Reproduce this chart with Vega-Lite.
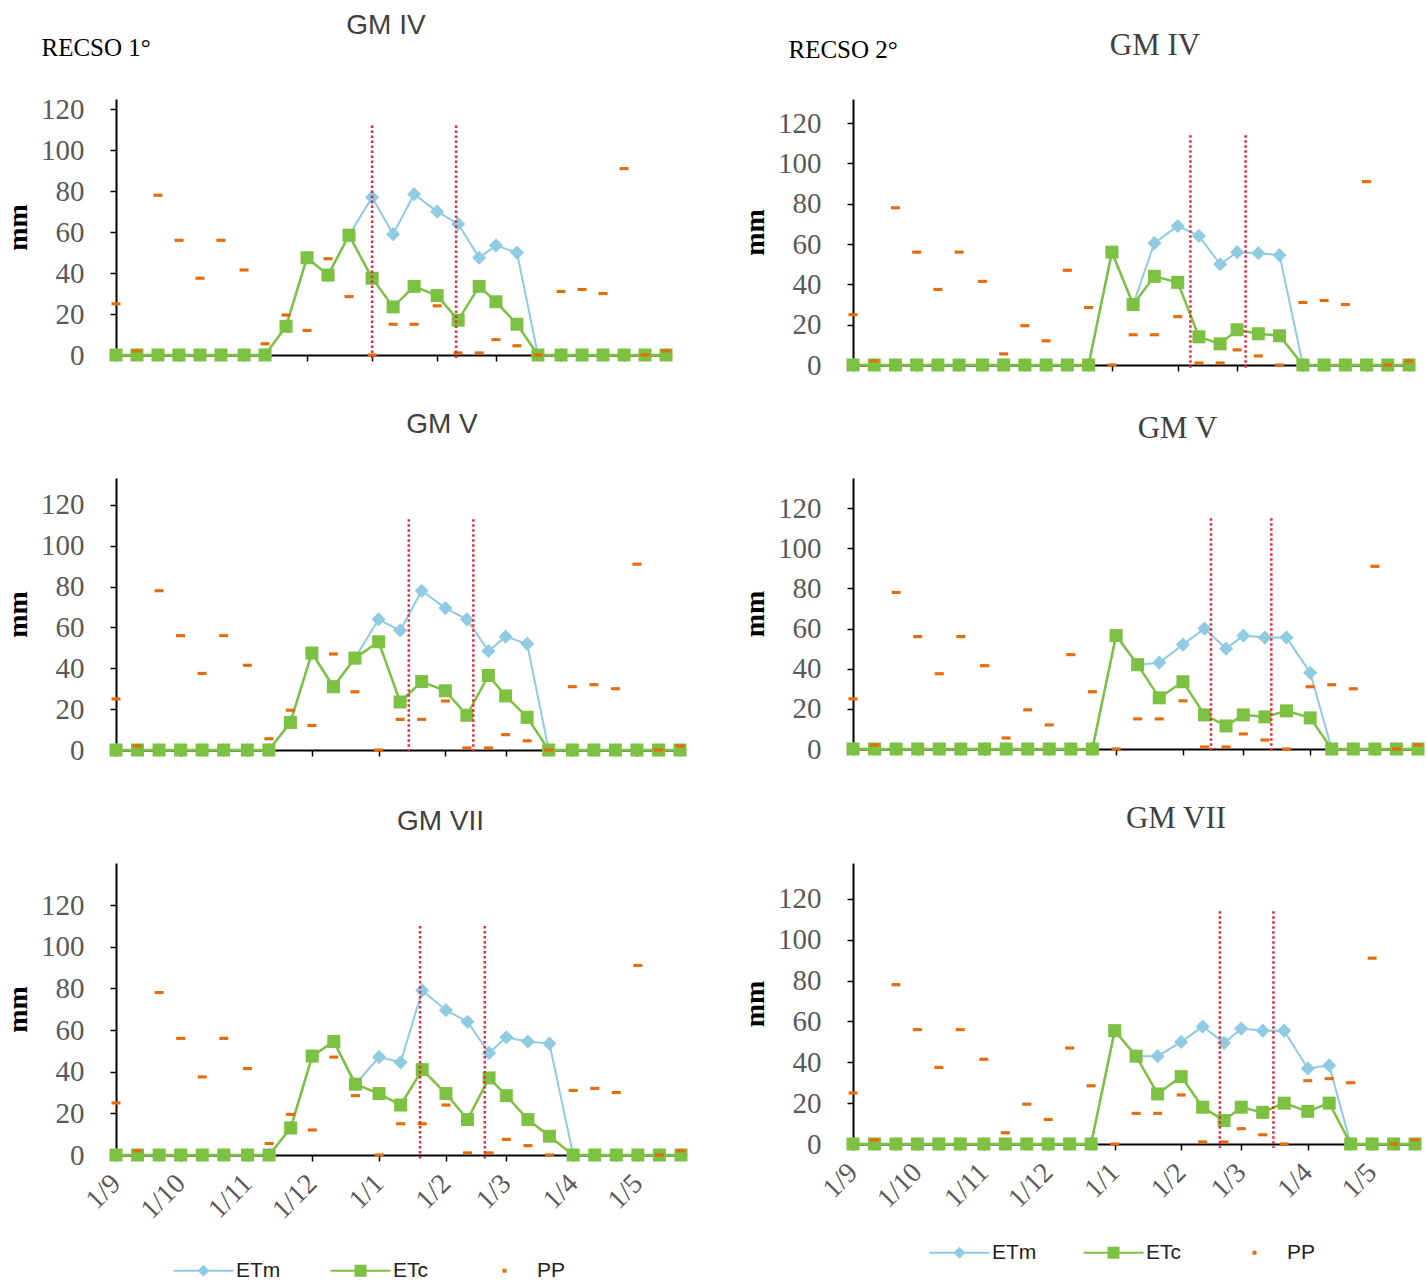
{
  "$schema": "https://vega.github.io/schema/vega-lite/v6.json",
  "background": "white",
  "padding": {"left": 4, "top": 12, "right": 5, "bottom": 0},
  "config": {"view": {"stroke": null}, "font": "Liberation Sans"},
  "datasets": {
    "r1_gm4": [
      {"date": "2016-09-01", "ETm": 0, "ETc": 0, "PP": 25},
      {"date": "2016-09-11", "ETm": 0, "ETc": 0, "PP": 2},
      {"date": "2016-09-21", "ETm": 0, "ETc": 0, "PP": 78},
      {"date": "2016-10-01", "ETm": 0, "ETc": 0, "PP": 56},
      {"date": "2016-10-11", "ETm": 0, "ETc": 0, "PP": 37.5},
      {"date": "2016-10-21", "ETm": 0, "ETc": 0, "PP": 56},
      {"date": "2016-11-01", "ETm": 0, "ETc": 0, "PP": 41.5},
      {"date": "2016-11-11", "ETm": 0, "ETc": 0, "PP": 5.5},
      {"date": "2016-11-21", "ETm": 14, "ETc": 14, "PP": 19.5},
      {"date": "2016-12-01", "ETm": 47.5, "ETc": 47.5, "PP": 12},
      {"date": "2016-12-11", "ETm": 39, "ETc": 39, "PP": 47},
      {"date": "2016-12-21", "ETm": 58.5, "ETc": 58.5, "PP": 28.5},
      {"date": "2017-01-01", "ETm": 77, "ETc": 37.5, "PP": 0},
      {"date": "2017-01-11", "ETm": 59, "ETc": 23.5, "PP": 15},
      {"date": "2017-01-21", "ETm": 78.5, "ETc": 33.5, "PP": 15},
      {"date": "2017-02-01", "ETm": 70, "ETc": 29, "PP": 24},
      {"date": "2017-02-11", "ETm": 64, "ETc": 17, "PP": 1},
      {"date": "2017-02-21", "ETm": 47.5, "ETc": 33.5, "PP": 1},
      {"date": "2017-03-01", "ETm": 53.5, "ETc": 26, "PP": 7.5},
      {"date": "2017-03-11", "ETm": 50, "ETc": 15, "PP": 4.5},
      {"date": "2017-03-21", "ETm": 0, "ETc": 0, "PP": 0},
      {"date": "2017-04-01", "ETm": 0, "ETc": 0, "PP": 31},
      {"date": "2017-04-11", "ETm": 0, "ETc": 0, "PP": 32},
      {"date": "2017-04-21", "ETm": 0, "ETc": 0, "PP": 30},
      {"date": "2017-05-01", "ETm": 0, "ETc": 0, "PP": 91},
      {"date": "2017-05-11", "ETm": 0, "ETc": 0, "PP": 0},
      {"date": "2017-05-21", "ETm": 0, "ETc": 0, "PP": 2}
    ],
    "r1_gm5": [
      {"date": "2016-09-01", "ETm": 0, "ETc": 0, "PP": 25},
      {"date": "2016-09-11", "ETm": 0, "ETc": 0, "PP": 2},
      {"date": "2016-09-21", "ETm": 0, "ETc": 0, "PP": 78},
      {"date": "2016-10-01", "ETm": 0, "ETc": 0, "PP": 56},
      {"date": "2016-10-11", "ETm": 0, "ETc": 0, "PP": 37.5},
      {"date": "2016-10-21", "ETm": 0, "ETc": 0, "PP": 56},
      {"date": "2016-11-01", "ETm": 0, "ETc": 0, "PP": 41.5},
      {"date": "2016-11-11", "ETm": 0, "ETc": 0, "PP": 5.5},
      {"date": "2016-11-21", "ETm": 13.5, "ETc": 13.5, "PP": 19.5},
      {"date": "2016-12-01", "ETm": 47.5, "ETc": 47.5, "PP": 12},
      {"date": "2016-12-11", "ETm": 31, "ETc": 31, "PP": 47},
      {"date": "2016-12-21", "ETm": 45, "ETc": 45, "PP": 28.5},
      {"date": "2017-01-01", "ETm": 64, "ETc": 53, "PP": 0},
      {"date": "2017-01-11", "ETm": 58.5, "ETc": 23.5, "PP": 15},
      {"date": "2017-01-21", "ETm": 78, "ETc": 33.5, "PP": 15},
      {"date": "2017-02-01", "ETm": 69.5, "ETc": 29, "PP": 24},
      {"date": "2017-02-11", "ETm": 64, "ETc": 17, "PP": 1},
      {"date": "2017-02-21", "ETm": 48.5, "ETc": 36.5, "PP": 1},
      {"date": "2017-03-01", "ETm": 55.5, "ETc": 26.5, "PP": 7.5},
      {"date": "2017-03-11", "ETm": 52, "ETc": 16, "PP": 4.5},
      {"date": "2017-03-21", "ETm": 0, "ETc": 0, "PP": 0},
      {"date": "2017-04-01", "ETm": 0, "ETc": 0, "PP": 31},
      {"date": "2017-04-11", "ETm": 0, "ETc": 0, "PP": 32},
      {"date": "2017-04-21", "ETm": 0, "ETc": 0, "PP": 30},
      {"date": "2017-05-01", "ETm": 0, "ETc": 0, "PP": 91},
      {"date": "2017-05-11", "ETm": 0, "ETc": 0, "PP": 0},
      {"date": "2017-05-21", "ETm": 0, "ETc": 0, "PP": 2}
    ],
    "r1_gm7": [
      {"date": "2016-09-01", "ETm": 0, "ETc": 0, "PP": 25},
      {"date": "2016-09-11", "ETm": 0, "ETc": 0, "PP": 2},
      {"date": "2016-09-21", "ETm": 0, "ETc": 0, "PP": 78},
      {"date": "2016-10-01", "ETm": 0, "ETc": 0, "PP": 56},
      {"date": "2016-10-11", "ETm": 0, "ETc": 0, "PP": 37.5},
      {"date": "2016-10-21", "ETm": 0, "ETc": 0, "PP": 56},
      {"date": "2016-11-01", "ETm": 0, "ETc": 0, "PP": 41.5},
      {"date": "2016-11-11", "ETm": 0, "ETc": 0, "PP": 5.5},
      {"date": "2016-11-21", "ETm": 13, "ETc": 13, "PP": 19.5},
      {"date": "2016-12-01", "ETm": 47.5, "ETc": 47.5, "PP": 12},
      {"date": "2016-12-11", "ETm": 54.5, "ETc": 54.5, "PP": 47},
      {"date": "2016-12-21", "ETm": 34, "ETc": 34, "PP": 28.5},
      {"date": "2017-01-01", "ETm": 47, "ETc": 29.5, "PP": 0},
      {"date": "2017-01-11", "ETm": 44.5, "ETc": 24, "PP": 15},
      {"date": "2017-01-21", "ETm": 79, "ETc": 41, "PP": 15},
      {"date": "2017-02-01", "ETm": 69.5, "ETc": 29.5, "PP": 24},
      {"date": "2017-02-11", "ETm": 64, "ETc": 17, "PP": 1},
      {"date": "2017-02-21", "ETm": 49, "ETc": 37, "PP": 1},
      {"date": "2017-03-01", "ETm": 56.5, "ETc": 28.5, "PP": 7.5},
      {"date": "2017-03-11", "ETm": 54.5, "ETc": 17, "PP": 4.5},
      {"date": "2017-03-21", "ETm": 53.5, "ETc": 9, "PP": 0},
      {"date": "2017-04-01", "ETm": 0, "ETc": 0, "PP": 31},
      {"date": "2017-04-11", "ETm": 0, "ETc": 0, "PP": 32},
      {"date": "2017-04-21", "ETm": 0, "ETc": 0, "PP": 30},
      {"date": "2017-05-01", "ETm": 0, "ETc": 0, "PP": 91},
      {"date": "2017-05-11", "ETm": 0, "ETc": 0, "PP": 0},
      {"date": "2017-05-21", "ETm": 0, "ETc": 0, "PP": 2}
    ],
    "r2_gm4": [
      {"date": "2016-09-01", "ETm": 0, "ETc": 0, "PP": 25},
      {"date": "2016-09-11", "ETm": 0, "ETc": 0, "PP": 2},
      {"date": "2016-09-21", "ETm": 0, "ETc": 0, "PP": 78},
      {"date": "2016-10-01", "ETm": 0, "ETc": 0, "PP": 56},
      {"date": "2016-10-11", "ETm": 0, "ETc": 0, "PP": 37.5},
      {"date": "2016-10-21", "ETm": 0, "ETc": 0, "PP": 56},
      {"date": "2016-11-01", "ETm": 0, "ETc": 0, "PP": 41.5},
      {"date": "2016-11-11", "ETm": 0, "ETc": 0, "PP": 5.5},
      {"date": "2016-11-21", "ETm": 0, "ETc": 0, "PP": 19.5},
      {"date": "2016-12-01", "ETm": 0, "ETc": 0, "PP": 12},
      {"date": "2016-12-11", "ETm": 0, "ETc": 0, "PP": 47},
      {"date": "2016-12-21", "ETm": 0, "ETc": 0, "PP": 28.5},
      {"date": "2017-01-01", "ETm": 56, "ETc": 56, "PP": 0},
      {"date": "2017-01-11", "ETm": 30, "ETc": 30, "PP": 15},
      {"date": "2017-01-21", "ETm": 60.5, "ETc": 44, "PP": 15},
      {"date": "2017-02-01", "ETm": 69, "ETc": 41, "PP": 24},
      {"date": "2017-02-11", "ETm": 64, "ETc": 14, "PP": 1},
      {"date": "2017-02-21", "ETm": 50, "ETc": 10.5, "PP": 1},
      {"date": "2017-03-01", "ETm": 56, "ETc": 17.5, "PP": 7.5},
      {"date": "2017-03-11", "ETm": 55.5, "ETc": 15.5, "PP": 4.5},
      {"date": "2017-03-21", "ETm": 54.5, "ETc": 14.5, "PP": 0},
      {"date": "2017-04-01", "ETm": 0, "ETc": 0, "PP": 31},
      {"date": "2017-04-11", "ETm": 0, "ETc": 0, "PP": 32},
      {"date": "2017-04-21", "ETm": 0, "ETc": 0, "PP": 30},
      {"date": "2017-05-01", "ETm": 0, "ETc": 0, "PP": 91},
      {"date": "2017-05-11", "ETm": 0, "ETc": 0, "PP": 0},
      {"date": "2017-05-21", "ETm": 0, "ETc": 0, "PP": 2}
    ],
    "r2_gm5": [
      {"date": "2016-09-01", "ETm": 0, "ETc": 0, "PP": 25},
      {"date": "2016-09-11", "ETm": 0, "ETc": 0, "PP": 2},
      {"date": "2016-09-21", "ETm": 0, "ETc": 0, "PP": 78},
      {"date": "2016-10-01", "ETm": 0, "ETc": 0, "PP": 56},
      {"date": "2016-10-11", "ETm": 0, "ETc": 0, "PP": 37.5},
      {"date": "2016-10-21", "ETm": 0, "ETc": 0, "PP": 56},
      {"date": "2016-11-01", "ETm": 0, "ETc": 0, "PP": 41.5},
      {"date": "2016-11-11", "ETm": 0, "ETc": 0, "PP": 5.5},
      {"date": "2016-11-21", "ETm": 0, "ETc": 0, "PP": 19.5},
      {"date": "2016-12-01", "ETm": 0, "ETc": 0, "PP": 12},
      {"date": "2016-12-11", "ETm": 0, "ETc": 0, "PP": 47},
      {"date": "2016-12-21", "ETm": 0, "ETc": 0, "PP": 28.5},
      {"date": "2017-01-01", "ETm": 56.5, "ETc": 56.5, "PP": 0},
      {"date": "2017-01-11", "ETm": 42, "ETc": 42, "PP": 15},
      {"date": "2017-01-21", "ETm": 43, "ETc": 25.5, "PP": 15},
      {"date": "2017-02-01", "ETm": 52, "ETc": 33.5, "PP": 24},
      {"date": "2017-02-11", "ETm": 60, "ETc": 17, "PP": 1},
      {"date": "2017-02-21", "ETm": 50, "ETc": 11.5, "PP": 1},
      {"date": "2017-03-01", "ETm": 56.5, "ETc": 17, "PP": 7.5},
      {"date": "2017-03-11", "ETm": 55.5, "ETc": 16, "PP": 4.5},
      {"date": "2017-03-21", "ETm": 55.5, "ETc": 19, "PP": 0},
      {"date": "2017-04-01", "ETm": 38, "ETc": 15.5, "PP": 31},
      {"date": "2017-04-11", "ETm": 0, "ETc": 0, "PP": 32},
      {"date": "2017-04-21", "ETm": 0, "ETc": 0, "PP": 30},
      {"date": "2017-05-01", "ETm": 0, "ETc": 0, "PP": 91},
      {"date": "2017-05-11", "ETm": 0, "ETc": 0, "PP": 0},
      {"date": "2017-05-21", "ETm": 0, "ETc": 0, "PP": 2}
    ],
    "r2_gm7": [
      {"date": "2016-09-01", "ETm": 0, "ETc": 0, "PP": 25},
      {"date": "2016-09-11", "ETm": 0, "ETc": 0, "PP": 2},
      {"date": "2016-09-21", "ETm": 0, "ETc": 0, "PP": 78},
      {"date": "2016-10-01", "ETm": 0, "ETc": 0, "PP": 56},
      {"date": "2016-10-11", "ETm": 0, "ETc": 0, "PP": 37.5},
      {"date": "2016-10-21", "ETm": 0, "ETc": 0, "PP": 56},
      {"date": "2016-11-01", "ETm": 0, "ETc": 0, "PP": 41.5},
      {"date": "2016-11-11", "ETm": 0, "ETc": 0, "PP": 5.5},
      {"date": "2016-11-21", "ETm": 0, "ETc": 0, "PP": 19.5},
      {"date": "2016-12-01", "ETm": 0, "ETc": 0, "PP": 12},
      {"date": "2016-12-11", "ETm": 0, "ETc": 0, "PP": 47},
      {"date": "2016-12-21", "ETm": 0, "ETc": 0, "PP": 28.5},
      {"date": "2017-01-01", "ETm": 55.5, "ETc": 55.5, "PP": 0},
      {"date": "2017-01-11", "ETm": 43, "ETc": 43, "PP": 15},
      {"date": "2017-01-21", "ETm": 43, "ETc": 24.5, "PP": 15},
      {"date": "2017-02-01", "ETm": 50, "ETc": 33, "PP": 24},
      {"date": "2017-02-11", "ETm": 57.5, "ETc": 18, "PP": 1},
      {"date": "2017-02-21", "ETm": 49.5, "ETc": 11.5, "PP": 1},
      {"date": "2017-03-01", "ETm": 56.5, "ETc": 18, "PP": 7.5},
      {"date": "2017-03-11", "ETm": 55.5, "ETc": 15.5, "PP": 4.5},
      {"date": "2017-03-21", "ETm": 55.5, "ETc": 20, "PP": 0},
      {"date": "2017-04-01", "ETm": 37, "ETc": 16, "PP": 31},
      {"date": "2017-04-11", "ETm": 38.5, "ETc": 20, "PP": 32},
      {"date": "2017-04-21", "ETm": 0, "ETc": 0, "PP": 30},
      {"date": "2017-05-01", "ETm": 0, "ETc": 0, "PP": 91},
      {"date": "2017-05-11", "ETm": 0, "ETc": 0, "PP": 0},
      {"date": "2017-05-21", "ETm": 0, "ETc": 0, "PP": 2}
    ]
  },
  "columns": 2,
  "bounds": "flush",
  "spacing": {"row": 113, "column": 172},
  "resolve": {"scale": {"color": "independent"}, "legend": {"color": "independent"}},
  "concat": [
    {
      "width": 550, "height": 256,
      "title": {"text": "GM IV", "font": "Liberation Sans", "fontSize": 28, "fontWeight": "normal", "color": "#404040", "anchor": "middle", "frame": "group", "baseline": "alphabetic", "dx": -5, "offset": 2, "dy": 29},
      "data": {"name": "r1_gm4"},
      "resolve": {"axis": {"x": "independent"}},
      "layer": [
        {"mark": {"type": "line", "strokeWidth": 2, "point": {"shape": "diamond", "size": 200, "filled": true, "opacity": 1}},
         "encoding": {
           "x": {"field": "date", "type": "temporal", "scale": {"type": "utc", "nice": false, "domain": [{"year": 2016, "month": 9, "date": 1, "utc": true}, {"year": 2017, "month": 5, "date": 21, "utc": true}]}, "axis": {"title": null, "labels": false, "grid": false, "tickCount": {"interval": "month", "step": 1}, "tickSize": 6, "tickWidth": 1.5, "tickColor": "#000000", "domainColor": "#000000", "domainWidth": 2}},
           "y": {"field": "ETm", "type": "quantitative", "scale": {"domain": [0, 125], "nice": false}, "axis": {"title": "mm", "titleFont": "Liberation Serif", "titleFontSize": 28, "titleFontWeight": "bold", "titleColor": "#000000", "titlePadding": 8, "labelFont": "Liberation Serif", "labelFontSize": 29, "labelColor": "#595959", "labelPadding": 26, "values": [0, 20, 40, 60, 80, 100, 120], "tickSize": 6, "tickWidth": 1.5, "tickColor": "#000000", "domainColor": "#000000", "domainWidth": 2, "grid": false}},
           "color": {"datum": "ETm", "scale": {"domain": ["ETm", "ETc", "PP"], "range": ["#8fcbe3", "#7cc142", "#e46c0a"]}, "legend": null}}},
        {"mark": {"type": "line", "strokeWidth": 2.5, "point": {"shape": "square", "size": 169, "filled": true, "opacity": 1}},
         "encoding": {
           "x": {"field": "date", "type": "temporal", "axis": null},
           "y": {"field": "ETc", "type": "quantitative", "axis": {"title": "mm"}},
           "color": {"datum": "ETc", "legend": null}}},
        {"mark": {"type": "point", "shape": "M-1,-0.35H1V0.35H-1Z", "size": 81, "filled": true, "opacity": 1},
         "encoding": {
           "x": {"field": "date", "type": "temporal", "axis": null},
           "y": {"field": "PP", "type": "quantitative", "axis": {"title": "mm"}},
           "color": {"datum": "PP", "legend": null}}},
        {"data": {"values": [{"date": "2017-01-01"}, {"date": "2017-02-10"}]},
         "mark": {"type": "rule", "color": "#e8283c", "strokeWidth": 2.5, "strokeDash": [2.5, 2.5]},
         "encoding": {
           "x": {"field": "date", "type": "temporal", "axis": {"orient": "top", "title": "RECSO 1°", "labels": false, "ticks": false, "domain": false, "grid": false, "titleFont": "Liberation Serif", "titleFontSize": 25, "titleFontWeight": "normal", "titleColor": "#000000", "titleX": -75, "titleY": -44, "titleAlign": "left", "titleBaseline": "alphabetic"}},
           "y": {"datum": 112}, "y2": {"datum": -2}}}
      ]
    },
    {
      "width": 556, "height": 266,
      "title": {"text": "GM IV", "font": "Liberation Serif", "fontSize": 31, "fontWeight": "normal", "color": "#404040", "anchor": "middle", "frame": "group", "baseline": "alphabetic", "dx": 24, "offset": 2, "dy": 51},
      "data": {"name": "r2_gm4"},
      "resolve": {"axis": {"x": "independent"}},
      "layer": [
        {"mark": {"type": "line", "strokeWidth": 2, "point": {"shape": "diamond", "size": 200, "filled": true, "opacity": 1}},
         "encoding": {
           "x": {"field": "date", "type": "temporal", "scale": {"type": "utc", "nice": false, "domain": [{"year": 2016, "month": 9, "date": 1, "utc": true}, {"year": 2017, "month": 5, "date": 21, "utc": true}]}, "axis": {"title": null, "labels": false, "grid": false, "tickCount": {"interval": "month", "step": 1}, "tickSize": 6, "tickWidth": 1.5, "tickColor": "#000000", "domainColor": "#000000", "domainWidth": 2}},
           "y": {"field": "ETm", "type": "quantitative", "scale": {"domain": [0, 132], "nice": false}, "axis": {"title": "mm", "titleFont": "Liberation Serif", "titleFontSize": 28, "titleFontWeight": "bold", "titleColor": "#000000", "titlePadding": 8, "labelFont": "Liberation Serif", "labelFontSize": 29, "labelColor": "#595959", "labelPadding": 26, "values": [0, 20, 40, 60, 80, 100, 120], "tickSize": 6, "tickWidth": 1.5, "tickColor": "#000000", "domainColor": "#000000", "domainWidth": 2, "grid": false}},
           "color": {"datum": "ETm", "scale": {"domain": ["ETm", "ETc", "PP"], "range": ["#8fcbe3", "#7cc142", "#e46c0a"]}, "legend": null}}},
        {"mark": {"type": "line", "strokeWidth": 2.5, "point": {"shape": "square", "size": 169, "filled": true, "opacity": 1}},
         "encoding": {
           "x": {"field": "date", "type": "temporal", "axis": null},
           "y": {"field": "ETc", "type": "quantitative", "axis": {"title": "mm"}},
           "color": {"datum": "ETc", "legend": null}}},
        {"mark": {"type": "point", "shape": "M-1,-0.35H1V0.35H-1Z", "size": 81, "filled": true, "opacity": 1},
         "encoding": {
           "x": {"field": "date", "type": "temporal", "axis": null},
           "y": {"field": "PP", "type": "quantitative", "axis": {"title": "mm"}},
           "color": {"datum": "PP", "legend": null}}},
        {"data": {"values": [{"date": "2017-02-07"}, {"date": "2017-03-05"}]},
         "mark": {"type": "rule", "color": "#e8283c", "strokeWidth": 2.5, "strokeDash": [2.5, 2.5]},
         "encoding": {
           "x": {"field": "date", "type": "temporal", "axis": {"orient": "top", "title": "RECSO 2°", "labels": false, "ticks": false, "domain": false, "grid": false, "titleFont": "Liberation Serif", "titleFontSize": 25, "titleFontWeight": "normal", "titleColor": "#000000", "titleX": -65, "titleY": -42, "titleAlign": "left", "titleBaseline": "alphabetic"}},
           "y": {"datum": 114}, "y2": {"datum": -2}}}
      ]
    },
    {
      "width": 564, "height": 272,
      "title": {"text": "GM V", "font": "Liberation Sans", "fontSize": 28, "fontWeight": "normal", "color": "#404040", "anchor": "middle", "frame": "group", "baseline": "alphabetic", "dx": 44, "offset": 46, "dy": 29},
      "data": {"name": "r1_gm5"},
      "layer": [
        {"mark": {"type": "line", "strokeWidth": 2, "point": {"shape": "diamond", "size": 200, "filled": true, "opacity": 1}},
         "encoding": {
           "x": {"field": "date", "type": "temporal", "scale": {"type": "utc", "nice": false, "domain": [{"year": 2016, "month": 9, "date": 1, "utc": true}, {"year": 2017, "month": 5, "date": 21, "utc": true}]}, "axis": {"title": null, "labels": false, "grid": false, "tickCount": {"interval": "month", "step": 1}, "tickSize": 6, "tickWidth": 1.5, "tickColor": "#000000", "domainColor": "#000000", "domainWidth": 2}},
           "y": {"field": "ETm", "type": "quantitative", "scale": {"domain": [0, 133.2], "nice": false}, "axis": {"title": "mm", "titleFont": "Liberation Serif", "titleFontSize": 28, "titleFontWeight": "bold", "titleColor": "#000000", "titlePadding": 8, "labelFont": "Liberation Serif", "labelFontSize": 29, "labelColor": "#595959", "labelPadding": 26, "values": [0, 20, 40, 60, 80, 100, 120], "tickSize": 6, "tickWidth": 1.5, "tickColor": "#000000", "domainColor": "#000000", "domainWidth": 2, "grid": false}},
           "color": {"datum": "ETm", "scale": {"domain": ["ETm", "ETc", "PP"], "range": ["#8fcbe3", "#7cc142", "#e46c0a"]}, "legend": null}}},
        {"mark": {"type": "line", "strokeWidth": 2.5, "point": {"shape": "square", "size": 169, "filled": true, "opacity": 1}},
         "encoding": {
           "x": {"field": "date", "type": "temporal"},
           "y": {"field": "ETc", "type": "quantitative", "axis": {"title": "mm"}},
           "color": {"datum": "ETc", "legend": null}}},
        {"mark": {"type": "point", "shape": "M-1,-0.35H1V0.35H-1Z", "size": 81, "filled": true, "opacity": 1},
         "encoding": {
           "x": {"field": "date", "type": "temporal"},
           "y": {"field": "PP", "type": "quantitative", "axis": {"title": "mm"}},
           "color": {"datum": "PP", "legend": null}}},
        {"data": {"values": [{"date": "2017-01-15"}, {"date": "2017-02-14"}]},
         "mark": {"type": "rule", "color": "#e8283c", "strokeWidth": 2.5, "strokeDash": [2.5, 2.5]},
         "encoding": {"x": {"field": "date", "type": "temporal"}, "y": {"datum": 113}, "y2": {"datum": -2}}}
      ]
    },
    {
      "width": 565, "height": 271,
      "title": {"text": "GM V", "font": "Liberation Serif", "fontSize": 31, "fontWeight": "normal", "color": "#404040", "anchor": "middle", "frame": "group", "baseline": "alphabetic", "dx": 42, "offset": 39, "dy": 30},
      "data": {"name": "r2_gm5"},
      "layer": [
        {"mark": {"type": "line", "strokeWidth": 2, "point": {"shape": "diamond", "size": 200, "filled": true, "opacity": 1}},
         "encoding": {
           "x": {"field": "date", "type": "temporal", "scale": {"type": "utc", "nice": false, "domain": [{"year": 2016, "month": 9, "date": 1, "utc": true}, {"year": 2017, "month": 5, "date": 21, "utc": true}]}, "axis": {"title": null, "labels": false, "grid": false, "tickCount": {"interval": "month", "step": 1}, "tickSize": 6, "tickWidth": 1.5, "tickColor": "#000000", "domainColor": "#000000", "domainWidth": 2}},
           "y": {"field": "ETm", "type": "quantitative", "scale": {"domain": [0, 135], "nice": false}, "axis": {"title": "mm", "titleFont": "Liberation Serif", "titleFontSize": 28, "titleFontWeight": "bold", "titleColor": "#000000", "titlePadding": 8, "labelFont": "Liberation Serif", "labelFontSize": 29, "labelColor": "#595959", "labelPadding": 26, "values": [0, 20, 40, 60, 80, 100, 120], "tickSize": 6, "tickWidth": 1.5, "tickColor": "#000000", "domainColor": "#000000", "domainWidth": 2, "grid": false}},
           "color": {"datum": "ETm", "scale": {"domain": ["ETm", "ETc", "PP"], "range": ["#8fcbe3", "#7cc142", "#e46c0a"]}, "legend": null}}},
        {"mark": {"type": "line", "strokeWidth": 2.5, "point": {"shape": "square", "size": 169, "filled": true, "opacity": 1}},
         "encoding": {
           "x": {"field": "date", "type": "temporal"},
           "y": {"field": "ETc", "type": "quantitative", "axis": {"title": "mm"}},
           "color": {"datum": "ETc", "legend": null}}},
        {"mark": {"type": "point", "shape": "M-1,-0.35H1V0.35H-1Z", "size": 81, "filled": true, "opacity": 1},
         "encoding": {
           "x": {"field": "date", "type": "temporal"},
           "y": {"field": "PP", "type": "quantitative", "axis": {"title": "mm"}},
           "color": {"datum": "PP", "legend": null}}},
        {"data": {"values": [{"date": "2017-02-14"}, {"date": "2017-03-14"}]},
         "mark": {"type": "rule", "color": "#e8283c", "strokeWidth": 2.5, "strokeDash": [2.5, 2.5]},
         "encoding": {"x": {"field": "date", "type": "temporal"}, "y": {"datum": 115}, "y2": {"datum": -2}}}
      ]
    },
    {
      "width": 565, "height": 292,
      "title": {"text": "GM VII", "font": "Liberation Sans", "fontSize": 28, "fontWeight": "normal", "color": "#404040", "anchor": "middle", "frame": "group", "baseline": "alphabetic", "dx": 42, "offset": 32, "dy": 27},
      "data": {"name": "r1_gm7"},
      "layer": [
        {"mark": {"type": "line", "strokeWidth": 2, "point": {"shape": "diamond", "size": 200, "filled": true, "opacity": 1}},
         "encoding": {
           "x": {"field": "date", "type": "temporal", "scale": {"type": "utc", "nice": false, "domain": [{"year": 2016, "month": 9, "date": 1, "utc": true}, {"year": 2017, "month": 5, "date": 21, "utc": true}]}, "axis": {"title": null, "format": "%-d/%-m", "labelAngle": -45, "labelAlign": "right", "labelBaseline": "middle", "labelPadding": 18, "labelFont": "Liberation Serif", "labelFontSize": 28, "labelColor": "#595959", "grid": false, "tickCount": {"interval": "month", "step": 1}, "tickSize": 6, "tickWidth": 1.5, "tickColor": "#000000", "domainColor": "#000000", "domainWidth": 2}},
           "y": {"field": "ETm", "type": "quantitative", "scale": {"domain": [0, 140.2], "nice": false}, "axis": {"title": "mm", "titleFont": "Liberation Serif", "titleFontSize": 28, "titleFontWeight": "bold", "titleColor": "#000000", "titlePadding": 8, "labelFont": "Liberation Serif", "labelFontSize": 29, "labelColor": "#595959", "labelPadding": 26, "values": [0, 20, 40, 60, 80, 100, 120], "tickSize": 6, "tickWidth": 1.5, "tickColor": "#000000", "domainColor": "#000000", "domainWidth": 2, "grid": false}},
           "color": {"datum": "ETm", "scale": {"domain": ["ETm", "ETc", "PP"], "range": ["#8fcbe3", "#7cc142", "#e46c0a"]},
             "legend": {"title": null, "orient": "none", "direction": "horizontal", "legendX": 57, "legendY": 397, "symbolSize": 400, "labelOffset": 42, "columnPadding": 45, "labelFont": "Liberation Sans", "labelFontSize": 21, "labelColor": "#222222",
               "encode": {"symbols": {"update": {
                 "shape": {"signal": "datum.value == 'ETm' ? 'M-1,0H5M2,-0.45L2.45,0L2,0.45L1.55,0Z' : datum.value == 'ETc' ? 'M-1,0H5M1.5,-0.5H2.5V0.5H1.5Z' : 'M1.8,-0.2H2.2V0.2H1.8Z'"},
                 "fill": {"signal": "datum.value == 'ETm' ? '#8fcbe3' : datum.value == 'ETc' ? '#7cc142' : '#e46c0a'"},
                 "stroke": {"signal": "datum.value == 'ETm' ? '#8fcbe3' : datum.value == 'ETc' ? '#7cc142' : '#e46c0a'"},
                 "strokeWidth": {"signal": "datum.value == 'PP' ? 0 : 2"},
                 "opacity": {"value": 1}, "fillOpacity": {"value": 1}, "strokeOpacity": {"value": 1}}}}}}}},
        {"mark": {"type": "line", "strokeWidth": 2.5, "point": {"shape": "square", "size": 169, "filled": true, "opacity": 1}},
         "encoding": {
           "x": {"field": "date", "type": "temporal"},
           "y": {"field": "ETc", "type": "quantitative", "axis": {"title": "mm"}},
           "color": {"datum": "ETc"}}},
        {"mark": {"type": "point", "shape": "M-1,-0.35H1V0.35H-1Z", "size": 81, "filled": true, "opacity": 1},
         "encoding": {
           "x": {"field": "date", "type": "temporal"},
           "y": {"field": "PP", "type": "quantitative", "axis": {"title": "mm"}},
           "color": {"datum": "PP"}}},
        {"data": {"values": [{"date": "2017-01-20"}, {"date": "2017-02-19"}]},
         "mark": {"type": "rule", "color": "#e8283c", "strokeWidth": 2.5, "strokeDash": [2.5, 2.5]},
         "encoding": {"x": {"field": "date", "type": "temporal"}, "y": {"datum": 110}, "y2": {"datum": -2}}}
      ]
    },
    {
      "width": 562, "height": 281,
      "title": {"text": "GM VII", "font": "Liberation Serif", "fontSize": 31, "fontWeight": "normal", "color": "#404040", "anchor": "middle", "frame": "group", "baseline": "alphabetic", "dx": 42, "offset": 34, "dy": 30},
      "data": {"name": "r2_gm7"},
      "layer": [
        {"mark": {"type": "line", "strokeWidth": 2, "point": {"shape": "diamond", "size": 200, "filled": true, "opacity": 1}},
         "encoding": {
           "x": {"field": "date", "type": "temporal", "scale": {"type": "utc", "nice": false, "domain": [{"year": 2016, "month": 9, "date": 1, "utc": true}, {"year": 2017, "month": 5, "date": 21, "utc": true}]}, "axis": {"title": null, "format": "%-d/%-m", "labelAngle": -45, "labelAlign": "right", "labelBaseline": "middle", "labelPadding": 18, "labelFont": "Liberation Serif", "labelFontSize": 28, "labelColor": "#595959", "grid": false, "tickCount": {"interval": "month", "step": 1}, "tickSize": 6, "tickWidth": 1.5, "tickColor": "#000000", "domainColor": "#000000", "domainWidth": 2}},
           "y": {"field": "ETm", "type": "quantitative", "scale": {"domain": [0, 137.6], "nice": false}, "axis": {"title": "mm", "titleFont": "Liberation Serif", "titleFontSize": 28, "titleFontWeight": "bold", "titleColor": "#000000", "titlePadding": 8, "labelFont": "Liberation Serif", "labelFontSize": 29, "labelColor": "#595959", "labelPadding": 26, "values": [0, 20, 40, 60, 80, 100, 120], "tickSize": 6, "tickWidth": 1.5, "tickColor": "#000000", "domainColor": "#000000", "domainWidth": 2, "grid": false}},
           "color": {"datum": "ETm", "scale": {"domain": ["ETm", "ETc", "PP"], "range": ["#8fcbe3", "#7cc142", "#e46c0a"]},
             "legend": {"title": null, "orient": "none", "direction": "horizontal", "legendX": 76, "legendY": 379, "symbolSize": 400, "labelOffset": 42, "columnPadding": 42, "labelFont": "Liberation Sans", "labelFontSize": 21, "labelColor": "#222222",
               "encode": {"symbols": {"update": {
                 "shape": {"signal": "datum.value == 'ETm' ? 'M-1,0H5M2,-0.45L2.45,0L2,0.45L1.55,0Z' : datum.value == 'ETc' ? 'M-1,0H5M1.5,-0.5H2.5V0.5H1.5Z' : 'M1.8,-0.2H2.2V0.2H1.8Z'"},
                 "fill": {"signal": "datum.value == 'ETm' ? '#8fcbe3' : datum.value == 'ETc' ? '#7cc142' : '#e46c0a'"},
                 "stroke": {"signal": "datum.value == 'ETm' ? '#8fcbe3' : datum.value == 'ETc' ? '#7cc142' : '#e46c0a'"},
                 "strokeWidth": {"signal": "datum.value == 'PP' ? 0 : 2"},
                 "opacity": {"value": 1}, "fillOpacity": {"value": 1}, "strokeOpacity": {"value": 1}}}}}}}},
        {"mark": {"type": "line", "strokeWidth": 2.5, "point": {"shape": "square", "size": 169, "filled": true, "opacity": 1}},
         "encoding": {
           "x": {"field": "date", "type": "temporal"},
           "y": {"field": "ETc", "type": "quantitative", "axis": {"title": "mm"}},
           "color": {"datum": "ETc"}}},
        {"mark": {"type": "point", "shape": "M-1,-0.35H1V0.35H-1Z", "size": 81, "filled": true, "opacity": 1},
         "encoding": {
           "x": {"field": "date", "type": "temporal"},
           "y": {"field": "PP", "type": "quantitative", "axis": {"title": "mm"}},
           "color": {"datum": "PP"}}},
        {"data": {"values": [{"date": "2017-02-19"}, {"date": "2017-03-16"}]},
         "mark": {"type": "rule", "color": "#e8283c", "strokeWidth": 2.5, "strokeDash": [2.5, 2.5]},
         "encoding": {"x": {"field": "date", "type": "temporal"}, "y": {"datum": 114}, "y2": {"datum": -2}}}
      ]
    }
  ]
}
